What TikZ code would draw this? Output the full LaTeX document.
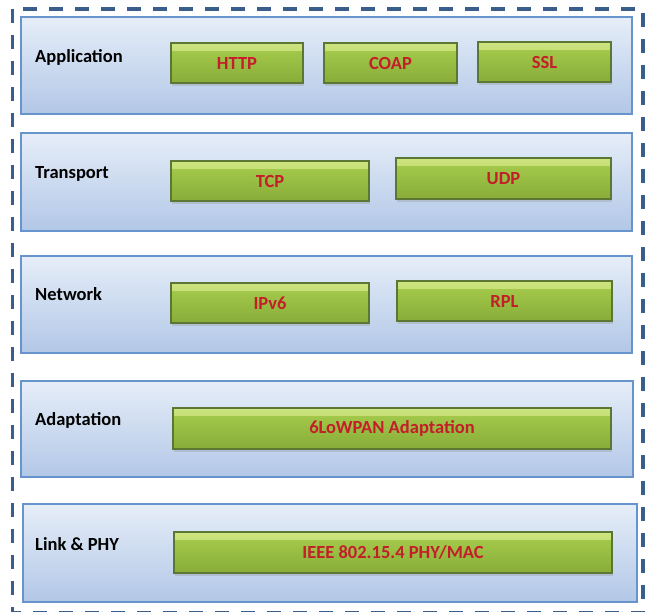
\documentclass[tikz,border=0pt]{standalone}
\usepackage{fontspec}
\setmainfont{Carlito}
\usetikzlibrary{shadows}
\definecolor{outerblue}{RGB}{58,94,140}
\definecolor{layerline}{RGB}{104,148,206}
\definecolor{layertop}{RGB}{230,238,248}
\definecolor{layerbot}{RGB}{178,199,231}
\definecolor{greenline}{RGB}{92,118,52}
\definecolor{greentop}{RGB}{168,206,78}
\definecolor{greenbot}{RGB}{136,172,56}
\definecolor{greenhi}{RGB}{206,228,128}
\definecolor{protored}{RGB}{196,30,42}
\tikzset{
  layerbox/.style={draw=layerline, line width=1.4pt, top color=layertop, bottom color=layerbot, inner sep=0pt},
  protobox/.style={draw=greenline, line width=1.2pt, top color=greentop, bottom color=greenbot, inner sep=0pt,
    text=protored, font=\fontsize{18.5}{22}\selectfont\bfseries,
    drop shadow={shadow xshift=1pt, shadow yshift=-3pt, opacity=0.25},
    path picture={\shade[top color=greenhi, bottom color=greentop] ([yshift=-1pt]path picture bounding box.north west) rectangle ([yshift=-7pt]path picture bounding box.north east);}},
  layername/.style={anchor=base west, inner sep=0pt, font=\fontsize{18.5}{22}\selectfont\bfseries}
}
\newcommand{\layer}[5]
{   \node[layerbox, minimum width={#4-#2}, minimum height={#5-#3}] (#1) at ({(#2+#4)/2},{(#3+#5)/2}) {};
}
\newcommand{\proto}[6]
{   \node[protobox, minimum width={#4-#2}, minimum height={#5-#3}] (#1) at ({(#2+#4)/2},{(#3+#5)/2}) {#6};
}

\begin{document}
\begin{tikzpicture}[x=1pt,y=-1pt]
 \useasboundingbox (0,0) rectangle (648,611);
 \draw[outerblue, line width=3.5pt, dash pattern=on 14pt off 12pt] (12.5,9) rectangle (643,612.5);

 \layer{app}{21}{17}{632}{114}
 \layer{trans}{21}{133}{632}{231}
 \layer{net}{21}{256}{632}{353}
 \layer{adapt}{21}{381}{633}{477}
 \layer{link}{23}{504}{637}{602}

 \node[layername] (appname) at (35,62) {Application};
 \node[layername] (transname) at (35,178) {Transport};
 \node[layername] (netname) at (35,300) {Network};
 \node[layername] (adaptname) at (35,425) {Adaptation};
 \node[layername] (linkname) at (35,550) {Link \& PHY};

 \proto{http}{171}{43}{303}{83}{HTTP}
 \proto{coap}{324}{43}{457}{83}{COAP}
 \proto{ssl}{478}{42}{611}{82}{SSL}
 \proto{tcp}{171}{161}{369}{201}{TCP}
 \proto{udp}{396}{158}{611}{199}{UDP}
 \proto{ipv6}{171}{283}{369}{323}{IPv6}
 \proto{rpl}{397}{281}{612}{321}{RPL}
 \proto{lowpan}{173}{408}{611}{449}{6LoWPAN Adaptation}
 \proto{ieee}{174}{532}{612}{573}{IEEE 802.15.4 PHY/MAC}

\end{tikzpicture}
\end{document}
